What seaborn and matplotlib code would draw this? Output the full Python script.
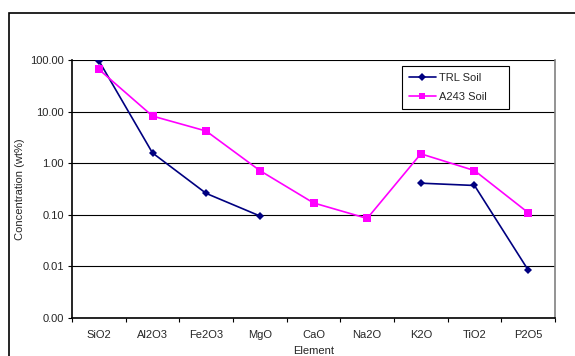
import numpy as np
import pandas as pd
import matplotlib
matplotlib.use('Agg')
import matplotlib.pyplot as plt
import matplotlib.ticker as mticker
from matplotlib.patches import Rectangle
import seaborn as sns

elements = ['SiO2', 'Al2O3', 'Fe2O3', 'MgO', 'CaO', 'Na2O', 'K2O', 'TiO2', 'P2O5']
trl_soil = [97.0, 1.58, 0.26, 0.095, np.nan, np.nan, 0.41, 0.37, 0.0085]
a243_soil = [66.0, 8.2, 4.2, 0.72, 0.17, 0.085, 1.52, 0.72, 0.11]
y_ticks = [0.001, 0.01, 0.1, 1, 10, 100]

# long table, with a segment id so gaps (missing values) break the line
rows = []
for name, vals in [('TRL Soil', trl_soil), ('A243 Soil', a243_soil)]:
    seg = 0
    for i, v in enumerate(vals):
        if np.isnan(v):
            seg += 1
            continue
        rows.append({'pos': i, 'value': v, 'series': name, 'segment': f'{name}-{seg}'})
df = pd.DataFrame(rows)

sns.set_style('white')
plt.rcParams['font.family'] = ['Liberation Sans', 'DejaVu Sans']
fs = 8

fig = plt.figure(figsize=(5.75, 3.56), dpi=100)
ax = fig.add_axes([72/575, 38/356, 483/575, 258/356])

sns.lineplot(data=df, x='pos', y='value', hue='series', style='series',
             units='segment', estimator=None, sort=False,
             palette={'TRL Soil': '#000080', 'A243 Soil': '#FF00FF'},
             markers={'TRL Soil': 'D', 'A243 Soil': 's'}, dashes=False,
             markersize=4.5, markeredgewidth=0, linewidth=1.2, ax=ax)
for ln in ax.get_lines():
    if ln.get_marker() == 's':
        ln.set_markersize(5.5)

ax.set_yscale('log')
ax.set_ylim(0.001, 100)
ax.set_xlim(-0.5, len(elements) - 0.5)
ax.set_yticks(y_ticks)
ax.yaxis.set_major_formatter(mticker.FormatStrFormatter('%.2f'))
ax.yaxis.set_minor_locator(mticker.NullLocator())
ax.set_xticks(range(len(elements)))
ax.set_xticklabels(elements)
ax.set_xticks(np.arange(-0.5, len(elements), 1.0), minor=True)
ax.tick_params(axis='x', which='major', length=0, pad=9, labelsize=fs)
ax.tick_params(axis='x', which='minor', length=3, width=0.8, color='black', direction='out', bottom=True)
ax.tick_params(axis='y', length=3, width=0.8, color='black', direction='out', left=True, labelsize=fs, pad=3)

ax.grid(axis='y', color='black', linewidth=0.8)
ax.grid(axis='x', visible=False)
for s in ['left', 'bottom']:
    ax.spines[s].set_color('black')
    ax.spines[s].set_linewidth(1.2)
ax.spines['top'].set_visible(False)
ax.spines['right'].set_color('#808080')
ax.spines['right'].set_linewidth(1.2)

ax.set_xlabel('Element', fontsize=fs)
ax.set_ylabel('Concentration (wt%)', fontsize=fs)
ax.xaxis.set_label_coords(0.5, -0.11)
ax.yaxis.set_label_coords(-0.098, 0.5)

leg = ax.legend(loc='upper left', bbox_to_anchor=(0.683, 0.977), fontsize=fs,
                frameon=True, fancybox=False, edgecolor='black', framealpha=1,
                borderpad=0.6, labelspacing=0.85, handlelength=2.5, handletextpad=0.2,
                borderaxespad=0)
leg.get_frame().set_linewidth(0.8)
for h in leg.legend_handles:
    h.set_markersize(5 if h.get_marker() == 's' else 4.5)
for t in leg.get_texts():
    t.set_text(t.get_text() + '     ')

# outer chart-area frame, cut off on the right and bottom
fig.patches.append(Rectangle((9/575, -0.2), 1.2, 0.2 + (1 - 13/356), transform=fig.transFigure,
                             fill=False, edgecolor='black', linewidth=1.2, clip_on=False))

fig.savefig('out.png', dpi=100)
